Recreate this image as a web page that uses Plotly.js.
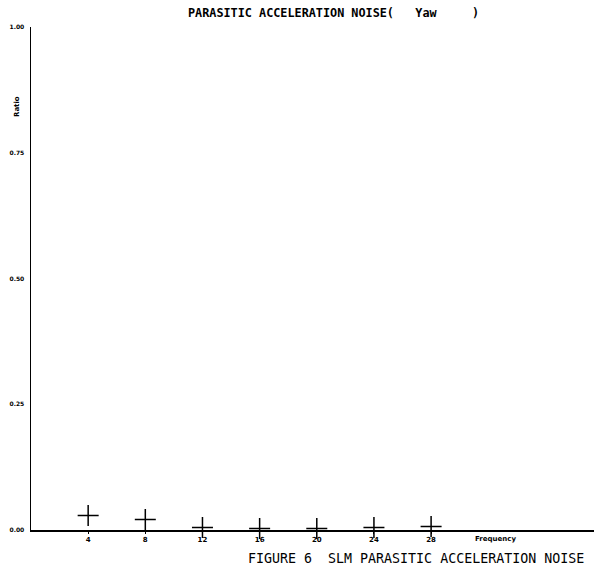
<!DOCTYPE html>
<html>
<head>
<meta charset="utf-8">
<script src="https://cdn.plot.ly/plotly-3.0.1.min.js"></script>
<style>html,body{margin:0;padding:0;background:#fff;}#chart{width:594px;height:570px;}</style>
</head>
<body>
<div id="chart"></div>
<script>
// Data
var frequency = [4, 8, 12, 16, 20, 24, 28];
var ratio = [0.029, 0.021, 0.005, 0.003, 0.003, 0.005, 0.007];
var xTickVals = [4, 8, 12, 16, 20, 24, 28];
var xTickText = ["4", "8", "12", "16", "20", "24", "28"];
var yTickVals = [0, 0.25, 0.5, 0.75, 1.0];
var yTickText = ["0.00", "0.25", "0.50", "0.75", "1.00"];
var chartTitle = "PARASITIC ACCELERATION NOISE(\u00a0\u00a0\u00a0Yaw\u00a0\u00a0\u00a0\u00a0\u00a0)";
var caption = "FIGURE 6\u00a0\u00a0SLM PARASITIC ACCELERATION NOISE";
var xLabel = "Frequency";
var yLabel = "Ratio";

var trace = {
  x: frequency,
  y: ratio,
  type: "scatter",
  mode: "markers",
  marker: {
    symbol: "cross-thin-open",
    size: 15,
    color: "#000",
    line: {color: "#000", width: 1.5}
  },
  hoverinfo: "skip",
  cliponaxis: false
};

var layout = {
  width: 594,
  height: 570,
  margin: {l: 31, r: 0, t: 27, b: 40},
  paper_bgcolor: "#fff",
  plot_bgcolor: "#fff",
  showlegend: false,
  xaxis: {
    range: [0, 39.4],
    showgrid: false,
    zeroline: false,
    showline: true,
    linecolor: "#000",
    linewidth: 1.5,
    tickmode: "array",
    tickvals: xTickVals,
    ticktext: xTickText,
    ticks: "outside",
    ticklen: 2,
    tickcolor: "#000",
    tickfont: {family: "DejaVu Sans", size: 7, color: "#000", weight: "bold"}
  },
  yaxis: {
    range: [0, 1.0],
    showgrid: false,
    zeroline: false,
    showline: true,
    linecolor: "#000",
    linewidth: 1.5,
    tickmode: "array",
    tickvals: yTickVals,
    ticktext: yTickText,
    ticks: "",
    ticklabelstandoff: 4,
    tickfont: {family: "DejaVu Sans", size: 6, color: "#000", weight: "bold"}
  },
  annotations: [
    {text: chartTitle, xref: "paper", yref: "paper", x: 0, y: 1, xshift: 155, yshift: 14,
     xanchor: "left", yanchor: "middle", showarrow: false,
     font: {family: "DejaVu Sans Mono", size: 11.8, color: "#000", weight: "bold"}},
    {text: caption, xref: "paper", yref: "paper", x: 0, y: 0, xshift: 215, yshift: -28,
     xanchor: "left", yanchor: "middle", showarrow: false,
     font: {family: "DejaVu Sans Mono", size: 13.3, color: "#000"}},
    {text: xLabel, xref: "paper", yref: "paper", x: 0, y: 0, xshift: 442, yshift: -9,
     xanchor: "left", yanchor: "middle", showarrow: false,
     font: {family: "DejaVu Sans", size: 7, color: "#000", weight: "bold"}},
    {text: yLabel, xref: "paper", yref: "paper", x: 0, y: 1, xshift: -14, yshift: -80,
     xanchor: "center", yanchor: "middle", textangle: -90, showarrow: false,
     font: {family: "DejaVu Sans", size: 7, color: "#000", weight: "bold"}}
  ]
};

Plotly.newPlot("chart", [trace], layout, {displayModeBar: false, staticPlot: true});
</script>
</body>
</html>
